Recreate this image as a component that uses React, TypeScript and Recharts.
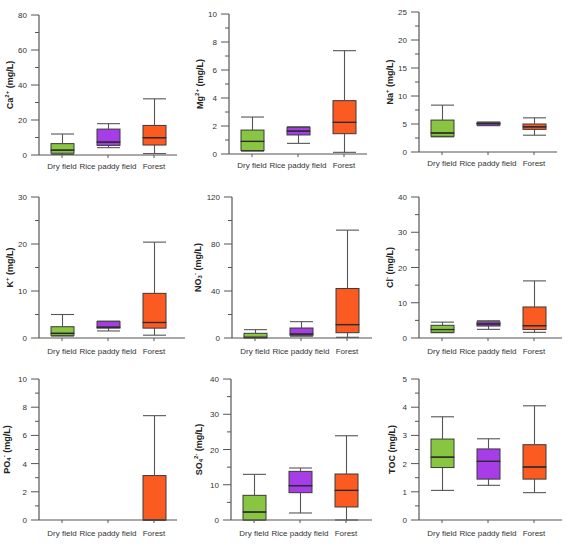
import React from 'react';
import { ComposedChart, Bar, XAxis, YAxis, Label } from 'recharts';

const sites = ['Dry field', 'Rice paddy field', 'Forest'];
const siteColors = ['#88c540', '#a73de6', '#fb5a20'];

// each box: [min, q1, median, q3, max]; null = no samples above detection
type Box = number[] | null;
const caBoxes: Box[] = [[0.3, 1.0, 2.8, 6.5, 12.0], [4.2, 5.5, 7.4, 14.8, 17.9], [0.8, 5.7, 9.9, 16.9, 32.1]];
const mgBoxes: Box[] = [[0.2, 0.25, 0.9, 1.71, 2.64], [0.76, 1.36, 1.64, 1.9, 1.95], [0.12, 1.45, 2.26, 3.81, 7.38]];
const naBoxes: Box[] = [[2.7, 2.8, 3.4, 5.7, 8.37], [4.7, 4.8, 5.1, 5.3, 5.35], [3.0, 4.04, 4.5, 5.0, 6.1]];
const kBoxes: Box[] = [[0.4, 0.57, 1.0, 2.4, 5.0], [1.5, 2.1, 2.3, 3.5, 3.6], [0.6, 2.1, 3.3, 9.5, 20.4]];
const no3Boxes: Box[] = [[0, 0.2, 0.6, 4.0, 7.1], [1.5, 2.3, 3.4, 8.5, 13.9], [0.6, 4.5, 11.4, 42.1, 91.8]];
const clBoxes: Box[] = [[1.5, 1.6, 2.4, 3.6, 4.5], [2.45, 3.4, 4.0, 4.6, 4.9], [1.6, 2.4, 3.5, 8.8, 16.2]];
const po4Boxes: Box[] = [null, null, [0, 0, 0, 3.15, 7.4]];
const so4Boxes: Box[] = [[0, 0, 2.27, 7.0, 12.95], [1.99, 7.75, 9.74, 13.8, 14.75], [0, 3.7, 8.4, 13.05, 23.9]];
const tocBoxes: Box[] = [[1.05, 1.86, 2.23, 2.87, 3.66], [1.23, 1.45, 2.08, 2.52, 2.88], [0.97, 1.45, 1.88, 2.67, 4.05]];

const caTicks = [0, 10, 20, 30, 40, 50, 60, 70, 80];
const mgTicks = [0, 1, 2, 3, 4, 5, 6, 7, 8, 9, 10];
const naTicks = [0, 2.5, 5, 7.5, 10, 12.5, 15, 17.5, 20, 22.5, 25];
const kTicks = [0, 5, 10, 15, 20, 25, 30];
const no3Ticks = [0, 20, 40, 60, 80, 100, 120];
const clTicks = [0, 5, 10, 15, 20, 25, 30, 35, 40];
const po4Ticks = [0, 1, 2, 3, 4, 5, 6, 7, 8, 9, 10];
const so4Ticks = [0, 5, 10, 15, 20, 25, 30, 35, 40];
const tocTicks = [0, 0.5, 1, 1.5, 2, 2.5, 3, 3.5, 4, 4.5, 5];

// title pieces: [text, 'sup' | 'sub' | '']
type Piece = [string, string];
const panels = [
  { title: [['Ca', ''], ['2+', 'sup'], [' (mg/L)', '']] as Piece[], boxes: caBoxes, ticks: caTicks, step: 20, col: 0, row: 0, top: 15, bottom: 25, axisEnd: 177, axisW: 39, titleX: 10 },
  { title: [['Mg', ''], ['2+', 'sup'], [' (mg/L)', '']] as Piece[], boxes: mgBoxes, ticks: mgTicks, step: 2, col: 1, row: 0, top: 14, bottom: 26, axisEnd: 177, axisW: 39, titleX: 10 },
  { title: [['Na', ''], ['+', 'sup'], [' (mg/L)', '']] as Piece[], boxes: naBoxes, ticks: naTicks, step: 5, col: 2, row: 0, top: 12, bottom: 28, axisEnd: 177, axisW: 39, titleX: 10 },
  { title: [['K', ''], ['+', 'sup'], [' (mg/L)', '']] as Piece[], boxes: kBoxes, ticks: kTicks, step: 10, col: 0, row: 1, top: 17, bottom: 22, axisEnd: 185, axisW: 39, titleX: 10 },
  { title: [['NO', ''], ['3', 'sub'], ['-', 'sup'], [' (mg/L)', '']] as Piece[], boxes: no3Boxes, ticks: no3Ticks, step: 40, col: 1, row: 1, top: 17, bottom: 22, axisEnd: 182, axisW: 42, titleX: 8 },
  { title: [['Cl', ''], ['-', 'sup'], [' (mg/L)', '']] as Piece[], boxes: clBoxes, ticks: clTicks, step: 10, col: 2, row: 1, top: 17, bottom: 22, axisEnd: 182, axisW: 39, titleX: 10 },
  { title: [['PO', ''], ['4', 'sub'], ['-', 'sup'], [' (mg/L)', '']] as Piece[], boxes: po4Boxes, ticks: po4Ticks, step: 2, col: 0, row: 2, top: 19, bottom: 27, axisEnd: 177, axisW: 39, titleX: 7 },
  { title: [['SO', ''], ['4', 'sub'], ['2-', 'sup'], [' (mg/L)', '']] as Piece[], boxes: so4Boxes, ticks: so4Ticks, step: 10, col: 1, row: 2, top: 19, bottom: 27, axisEnd: 182, axisW: 41, titleX: 9 },
  { title: [['TOC (mg/L)', '']] as Piece[], boxes: tocBoxes, ticks: tocTicks, step: 1, col: 2, row: 2, top: 19, bottom: 27, axisEnd: 182, axisW: 39, titleX: 12 },
];

const rowTops = [0, 180, 360];
const rowHeights = [180, 180, 187];
const BAND_SPAN = 138;
const FONT = '"Liberation Sans", Arial, Helvetica, sans-serif';
const AXIS = '#555';
const EDGE = '#3a3a3a';

function toRows(boxes: Box[]) {
  return sites.map((site, i) => {
    const b = boxes[i];
    if (!b) return { site };
    return {
      site,
      color: siteColors[i],
      base: b[0],
      lowWhisker: b[1] - b[0],
      lowBox: b[2] - b[1],
      highBox: b[3] - b[2],
      highWhisker: b[4] - b[3],
    };
  });
}

const skip = (p: any) => p.x == null || isNaN(p.y) || !p.payload || !p.payload.color;

const LowWhisker = (p: any) => {
  if (skip(p)) return null;
  const { x, y, width, height } = p;
  const cx = x + width / 2;
  const yb = y + height;
  return (
    <g>
      <line x1={cx} x2={cx} y1={y} y2={yb} stroke={AXIS} strokeWidth={1.1} />
      <line x1={x} x2={x + width} y1={yb} y2={yb} stroke={AXIS} strokeWidth={1.1} />
    </g>
  );
};

const HighWhisker = (p: any) => {
  if (skip(p)) return null;
  const { x, y, width, height } = p;
  const cx = x + width / 2;
  return (
    <g>
      <line x1={cx} x2={cx} y1={y} y2={y + height} stroke={AXIS} strokeWidth={1.1} />
      <line x1={x} x2={x + width} y1={y} y2={y} stroke={AXIS} strokeWidth={1.1} />
    </g>
  );
};

const LowBox = (p: any) => {
  if (skip(p)) return null;
  const { x, y, width, height, payload } = p;
  return <rect x={x} y={y} width={width} height={Math.max(height, 0)} fill={payload.color} stroke={EDGE} strokeWidth={1} />;
};

const HighBox = (p: any) => {
  if (skip(p)) return null;
  const { x, y, width, height, payload } = p;
  const ym = y + height;
  return (
    <g>
      <rect x={x} y={y} width={width} height={Math.max(height, 0)} fill={payload.color} stroke={EDGE} strokeWidth={1} />
      <line x1={x} x2={x + width} y1={ym} y2={ym} stroke="#2a2a2a" strokeWidth={1.3} />
    </g>
  );
};

const YTick = (p: any) => {
  const { x, y, payload, step } = p;
  const v = payload.value;
  const major = Math.abs(v / step - Math.round(v / step)) < 1e-6;
  return (
    <g>
      <line x1={x} x2={x - (major ? 8 : 4)} y1={y} y2={y} stroke={AXIS} strokeWidth={1} />
      {major && (
        <text x={x - 12} y={y} dy={3} textAnchor="end" fontSize={8} fill="#333" fontFamily={FONT}>
          {v}
        </text>
      )}
    </g>
  );
};

const Title = (p: any) => {
  const { viewBox, pieces, offsetX } = p;
  const cx = viewBox.x + offsetX;
  const cy = viewBox.y + viewBox.height / 2;
  const out: React.ReactNode[] = [];
  let shift = 0;
  pieces.forEach(([t, kind]: Piece, i: number) => {
    const target = kind === 'sup' ? -3.5 : kind === 'sub' ? 2 : 0;
    out.push(
      <tspan key={i} dy={target - shift} fontSize={kind ? 6 : 9}>
        {t}
      </tspan>
    );
    shift = target;
  });
  return (
    <text
      x={cx}
      y={cy}
      transform={`rotate(-90 ${cx} ${cy})`}
      textAnchor="middle"
      dominantBaseline="central"
      fontWeight="bold"
      fill="#222"
      fontFamily={FONT}
    >
      {out}
    </text>
  );
};

function Panel({ cfg }: { cfg: (typeof panels)[number] }) {
  const h = rowHeights[cfg.row];
  const data = toRows(cfg.boxes);
  const max = cfg.ticks[cfg.ticks.length - 1];
  const padRight = cfg.axisEnd - (cfg.axisW + BAND_SPAN);
  return (
    <div style={{ position: 'absolute', left: cfg.col * 190, top: rowTops[cfg.row], width: 190, height: h }}>
      <ComposedChart
        width={190}
        height={h}
        data={data}
        margin={{ top: cfg.top, right: 190 - cfg.axisEnd, bottom: 0, left: 0 }}
        barSize={23}
      >
        <XAxis
          dataKey="site"
          height={cfg.bottom}
          interval={0}
          padding={{ left: 0, right: padRight }}
          axisLine={{ stroke: AXIS, strokeWidth: 1.2 }}
          tickLine={{ stroke: AXIS }}
          tickSize={3}
          tickMargin={cfg.row === 0 ? 5 : 7}
          tick={{ fontSize: 8, fill: '#333', fontFamily: FONT }}
        />
        <YAxis
          type="number"
          width={cfg.axisW}
          domain={[0, max]}
          ticks={cfg.ticks}
          interval={0}
          tickLine={false}
          tickSize={0}
          tickMargin={0}
          axisLine={{ stroke: AXIS, strokeWidth: 1.2 }}
          tick={(p: any) => <YTick {...p} step={cfg.step} />}
        >
          <Label content={(p: any) => <Title {...p} pieces={cfg.title} offsetX={cfg.titleX} />} />
        </YAxis>
        <Bar dataKey="base" stackId="b" shape={() => null} isAnimationActive={false} />
        <Bar dataKey="lowWhisker" stackId="b" shape={LowWhisker} isAnimationActive={false} />
        <Bar dataKey="lowBox" stackId="b" shape={LowBox} isAnimationActive={false} />
        <Bar dataKey="highBox" stackId="b" shape={HighBox} isAnimationActive={false} />
        <Bar dataKey="highWhisker" stackId="b" shape={HighWhisker} isAnimationActive={false} />
      </ComposedChart>
    </div>
  );
}

export default function App() {
  return (
    <div style={{ position: 'absolute', left: 0, top: 0, width: 570, height: 547, background: '#fff', fontFamily: FONT }}>
      {panels.map((cfg, i) => (
        <Panel key={i} cfg={cfg} />
      ))}
    </div>
  );
}
